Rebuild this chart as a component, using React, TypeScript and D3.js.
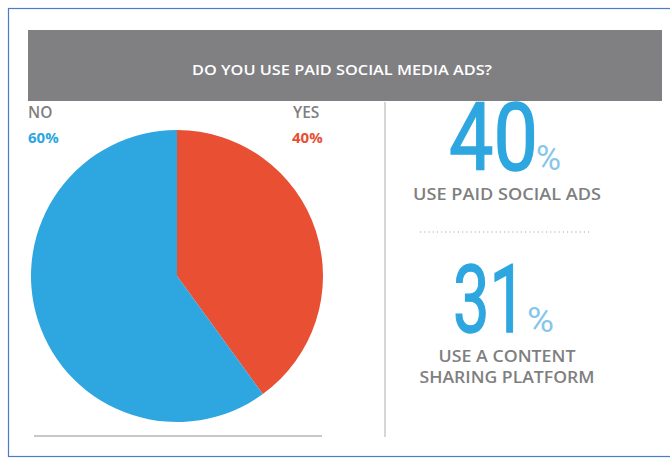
import React from "react";
import * as d3 from "d3";

const categories = ["YES", "NO"];
const values = [40, 60];
const sliceColors = ["#e84f33", "#2ea6df"];
const title = "DO YOU USE PAID SOCIAL MEDIA ADS?";
const statValues = ["40", "31"];
const statLines = [["USE PAID SOCIAL ADS"], ["USE A CONTENT", "SHARING PLATFORM"]];

const W = 670;
const H = 462;

export default function App() {
  const cx = 177;
  const cy = 276;
  const r = 146;
  const pie = d3.pie<number>().sort(null).value((d) => d);
  const arcs = pie(values);
  const arc = d3.arc<d3.PieArcDatum<number>>().innerRadius(0).outerRadius(r);
  const sans = "'Open Sans', 'Noto Sans', sans-serif";
  const gray = "#7f7f7f";

  const numLayout = [
    { x: 449, w: 89, base: 170, px: 536, pw: 25 },
    { x: 453, w: 73, base: 332, px: 527, pw: 27 },
  ];
  const lineLayout = [
    [{ y: 200, w: 188 }],
    [
      { y: 362, w: 137 },
      { y: 383, w: 175 },
    ],
  ];

  return (
    <svg
      width={W}
      height={H}
      style={{ position: "absolute", left: 0, top: 0, background: "#fff" }}
    >
      <rect x={8.5} y={8.5} width={680} height={448} fill="#fff" stroke="#4a7cc9" strokeWidth={1.2} />
      <rect x={28} y={30} width={634} height={71} fill="#808083" />
      <text
        x={342}
        y={75}
        textAnchor="middle"
        fill="#fff"
        fontFamily={sans}
        fontWeight={600}
        fontSize={14.5}
        textLength={300}
        lengthAdjust="spacingAndGlyphs"
      >
        {title}
      </text>

      <g transform={`translate(${cx},${cy})`}>
        {arcs.map((a, i) => (
          <path key={categories[i]} d={arc(a) || ""} fill={sliceColors[i]} />
        ))}
      </g>

      <text x={28} y={118} fill={gray} fontFamily={sans} fontWeight={600} fontSize={15.5}>
        {categories[1]}
      </text>
      <text x={28} y={143} fill={sliceColors[1]} fontFamily={sans} fontWeight={700} fontSize={15}>
        {values[1]}%
      </text>
      <text x={293} y={118} fill={gray} fontFamily={sans} fontWeight={600} fontSize={15.5}>
        {categories[0]}
      </text>
      <text x={292} y={143} fill={sliceColors[0]} fontFamily={sans} fontWeight={700} fontSize={15}>
        {values[0]}%
      </text>

      <line x1={34} x2={322} y1={436} y2={436} stroke="#c8c8c8" strokeWidth={2} />
      <line x1={385} x2={385} y1={102} y2={437} stroke="#c8c8c8" strokeWidth={1.5} />

      {statValues.map((v, i) => {
        const L = numLayout[i];
        return (
          <g key={v}>
            <text
              x={L.x}
              y={L.base}
              fill="#2ea6df"
              stroke="#2ea6df"
              strokeWidth={1.4}
              fontFamily="Roboto, sans-serif"
              fontWeight={400}
              fontSize={95}
              textLength={L.w}
              lengthAdjust="spacingAndGlyphs"
            >
              {v}
            </text>
            <text
              x={L.px}
              y={L.base}
              fill="#86c6ea"
              fontFamily="Roboto, sans-serif"
              fontWeight={400}
              fontSize={35}
              textLength={L.pw}
              lengthAdjust="spacingAndGlyphs"
            >
              %
            </text>
            {statLines[i].map((l, j) => (
              <text
                key={l}
                x={507}
                y={lineLayout[i][j].y}
                textAnchor="middle"
                fill={gray}
                fontFamily={sans}
                fontWeight={600}
                fontSize={16.5}
                textLength={lineLayout[i][j].w}
                lengthAdjust="spacingAndGlyphs"
              >
                {l}
              </text>
            ))}
          </g>
        );
      })}
      <line x1={420} x2={592} y1={232} y2={232} stroke="#a8a8a8" strokeWidth={1.2} strokeDasharray="1.2,3" />
    </svg>
  );
}
